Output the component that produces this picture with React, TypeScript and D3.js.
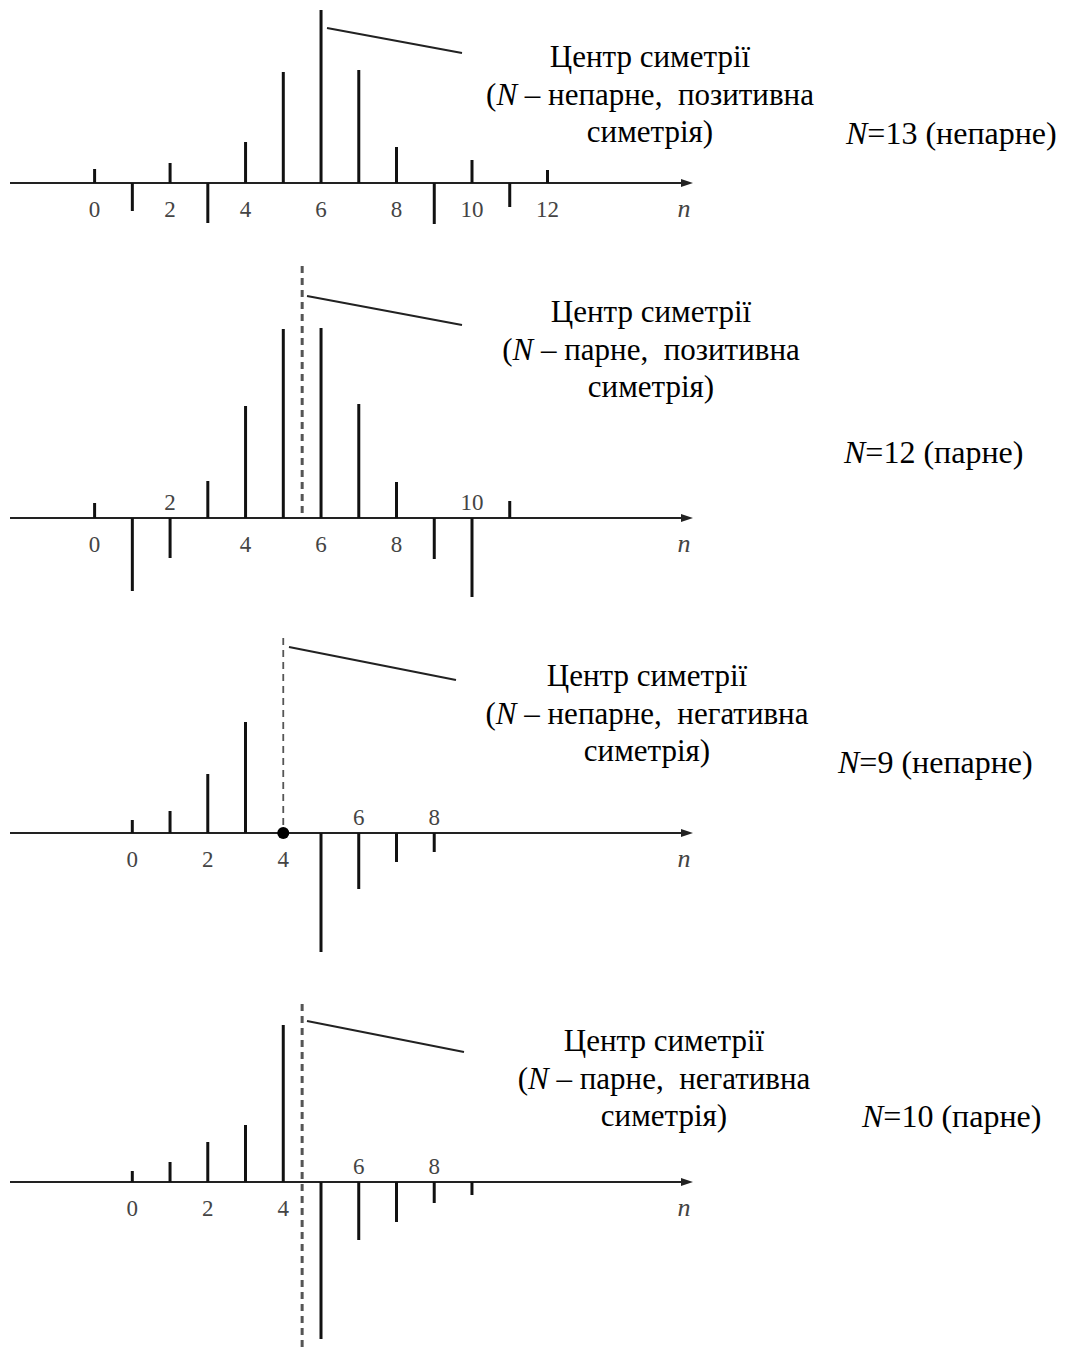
import React from 'react';
import * as d3 from 'd3';

// samples of the four impulse responses (amplitude, arbitrary units)
const h13 = [14, -28, 20, -40, 41, 111, 173, 113, 36, -41, 23, -24, 13];
const h12 = [15, -73, -40, 37, 112, 189, 190, 114, 36, -41, -79, 17];
const h9 = [13, 22, 59, 111, 0, -119, -56, -29, -19];
const h10 = [11, 20, 40, 57, 157, -157, -58, -40, -21, -13];

// tick labels on the n axis
const ticks13Below = [0, 2, 4, 6, 8, 10, 12];
const ticks12Above = [2, 10];
const ticks12Below = [0, 4, 6, 8];
const ticks9Below = [0, 2, 4];
const ticks9Above = [6, 8];
const ticks10Below = [0, 2, 4];
const ticks10Above = [6, 8];

const captions = [
  ['непарне', 'позитивна'],
  ['парне', 'позитивна'],
  ['непарне', 'негативна'],
  ['парне', 'негативна'],
];
const sizeLabels = ['13 (непарне)', '12 (парне)', '9 (непарне)', '10 (парне)'];

const SERIF = '"Liberation Serif", "Times New Roman", serif';
const STEP = 37.74;

interface PanelProps {
  values: number[];
  above: number[];
  below: number[];
  axisY: number;
  x0: number;
  center: number;
  dash?: { top: number; bottom: number; width: number };
  dot?: boolean;
  leader: [number, number, number, number];
  caption: string[];
  textX: number;
  textY: number;
  sizeLabel: string;
  sizeX: number;
  sizeY: number;
}

const Panel: React.FC<PanelProps> = (p) => {
  const x = d3.scaleLinear().domain([0, 1]).range([p.x0, p.x0 + STEP]);
  const y = d3.scaleLinear().domain([-100, 100]).range([p.axisY + 100, p.axisY - 100]);
  const cx = x(p.center);

  return (
    <g>
      {/* axis with arrow */}
      <line x1={10} x2={684} y1={p.axisY} y2={p.axisY} stroke="#222" strokeWidth={2} />
      <path
        d={`M${681},${p.axisY - 4} L${693},${p.axisY} L${681},${p.axisY + 4} Z`}
        fill="#222"
      />
      <text
        x={684}
        y={p.axisY + 34}
        fontFamily={SERIF}
        fontStyle="italic"
        fontSize={26}
        fill="#444"
        textAnchor="middle"
      >
        n
      </text>

      {/* stems */}
      {p.values.map((v, i) =>
        v === 0 ? null : (
          <line
            key={i}
            x1={x(i)}
            x2={x(i)}
            y1={y(0)}
            y2={y(v)}
            stroke="#111"
            strokeWidth={3}
          />
        )
      )}

      {p.dash && (
        <line
          x1={cx}
          x2={cx}
          y1={p.dash.top}
          y2={p.dash.bottom}
          stroke="#555"
          strokeWidth={p.dash.width}
          strokeDasharray="7,5"
        />
      )}
      {p.dot && <circle cx={cx} cy={y(0)} r={6} fill="#000" />}

      {/* tick labels */}
      {p.below.map((t) => (
        <text
          key={'b' + t}
          x={x(t)}
          y={p.axisY + 34}
          fontFamily={SERIF}
          fontSize={23}
          fill="#444"
          textAnchor="middle"
        >
          {t}
        </text>
      ))}
      {p.above.map((t) => (
        <text
          key={'a' + t}
          x={x(t)}
          y={p.axisY - 8}
          fontFamily={SERIF}
          fontSize={23}
          fill="#444"
          textAnchor="middle"
        >
          {t}
        </text>
      ))}

      {/* annotation */}
      <line
        x1={p.leader[0]}
        y1={p.leader[1]}
        x2={p.leader[2]}
        y2={p.leader[3]}
        stroke="#222"
        strokeWidth={2.2}
      />
      <g fontFamily={SERIF} fontSize={31} fill="#000" textAnchor="middle">
        <text x={p.textX} y={p.textY}>
          Центр симетрії
        </text>
        <text x={p.textX} y={p.textY + 38}>
          (<tspan fontStyle="italic">N</tspan>
          {` – ${p.caption[0]},\u00a0 ${p.caption[1]}`}
        </text>
        <text x={p.textX} y={p.textY + 75}>
          симетрія)
        </text>
      </g>
      <text x={p.sizeX} y={p.sizeY} fontFamily={SERIF} fontSize={32} fill="#000">
        <tspan fontStyle="italic">N</tspan>={p.sizeLabel}
      </text>
    </g>
  );
};

export default function App() {
  return (
    <svg
      width={1066}
      height={1352}
      style={{ position: 'absolute', left: 0, top: 0, background: '#fff' }}
    >
      <rect width={1066} height={1352} fill="#fff" />
      <Panel
        values={h13}
        above={[]}
        below={ticks13Below}
        axisY={183}
        x0={94.6}
        center={6}
        leader={[327, 28, 462, 53]}
        caption={captions[0]}
        textX={650}
        textY={67}
        sizeLabel={sizeLabels[0]}
        sizeX={846}
        sizeY={144}
      />
      <Panel
        values={h12}
        above={ticks12Above}
        below={ticks12Below}
        axisY={518}
        x0={94.6}
        center={5.5}
        dash={{ top: 266, bottom: 518, width: 3 }}
        leader={[307, 296, 462, 325]}
        caption={captions[1]}
        textX={651}
        textY={322}
        sizeLabel={sizeLabels[1]}
        sizeX={844}
        sizeY={463}
      />
      <Panel
        values={h9}
        above={ticks9Above}
        below={ticks9Below}
        axisY={833}
        x0={132.3}
        center={4}
        dash={{ top: 638, bottom: 833, width: 1.8 }}
        dot
        leader={[289, 647, 456, 680]}
        caption={captions[2]}
        textX={647}
        textY={686}
        sizeLabel={sizeLabels[2]}
        sizeX={838}
        sizeY={773}
      />
      <Panel
        values={h10}
        above={ticks10Above}
        below={ticks10Below}
        axisY={1182}
        x0={132.3}
        center={4.5}
        dash={{ top: 1004, bottom: 1350, width: 3 }}
        leader={[307, 1021, 464, 1052]}
        caption={captions[3]}
        textX={664}
        textY={1051}
        sizeLabel={sizeLabels[3]}
        sizeX={862}
        sizeY={1127}
      />
    </svg>
  );
}
